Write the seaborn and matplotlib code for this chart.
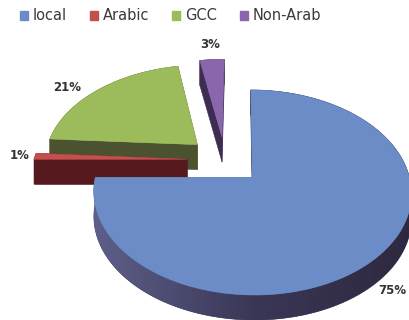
import numpy as np
import matplotlib
matplotlib.use("Agg")
import matplotlib.pyplot as plt
import seaborn as sns
from matplotlib.patches import Polygon, Patch
from matplotlib.colors import LinearSegmentedColormap

sns.set_theme(style="white")
plt.rcParams['font.family'] = ['DejaVu Sans']

# Shares of each group (percent)
categories = ["local", "Arabic", "GCC", "Non-Arab"]
shares = [75, 1, 21, 3]
value_labels = ["75%", "1%", "21%", "3%"]

top_colors = ["#6B8CC7", "#C4504E", "#9CBB5A", "#8A66AC"]
side_colors = ["#3E3D5E", "#561A1E", "#4A5230", "#3E2C52"]
wall_gradient = ["#5E5F8A", "#3A3756", "#2E283F"]

# 3-D pie geometry (pixel space of the canvas)
W, H = 410, 320
cx, cy = 225, 160
vanish_x = 240
rx, ry = 153, 95.2
persp = 0.1446
depth = 25
explode = 0.25
label_r = [1.1, 1.1, 1.2, 1.23]
label_turn = [0, 0, 6.4, 0]

fig = plt.figure(figsize=(W / 100, H / 100), dpi=100)
ax = fig.add_axes([0, 0, 1, 1])
ax.set_xlim(0, W)
ax.set_ylim(H, 0)
ax.axis("off")


def proj(u, v, z=0.0):
    u = np.atleast_1d(np.asarray(u, dtype=float))
    v = np.atleast_1d(np.asarray(v, dtype=float))
    f = 1.0 / (1.0 + persp * v)
    x = vanish_x + (cx + rx * u - vanish_x) * f
    return np.column_stack([x, cy - ry * v * f + z])


wall_cmap = LinearSegmentedColormap.from_list("wall", wall_gradient)

total = float(sum(shares))
bounds = np.concatenate([[0], np.cumsum(shares)]) / total
slices = []
for i, name in enumerate(categories):
    a0 = np.pi / 2 - 2 * np.pi * bounds[i]
    a1 = np.pi / 2 - 2 * np.pi * bounds[i + 1]
    mid = 0.5 * (a0 + a1)
    ou, ov = explode * np.cos(mid), explode * np.sin(mid)
    corner_y = proj(ou, ov)[0, 1]
    slices.append((corner_y, i, a0, a1, mid, ou, ov))

# paint from back to front
for corner_y, i, a0, a1, mid, ou, ov in sorted(slices):
    n = max(4, int(abs(a1 - a0) / np.radians(1.0)))
    t = np.linspace(a0, a1, n)
    au, av = ou + np.cos(t), ov + np.sin(t)
    arc_top = proj(au, av)
    arc_bot = proj(au, av, depth)
    c_top = proj(ou, ov)
    c_bot = proj(ou, ov, depth)

    # radial faces, back one first
    quads = [(av[0], np.vstack([c_top, arc_top[:1], arc_bot[:1], c_bot])),
             (av[-1], np.vstack([c_top, arc_top[-1:], arc_bot[-1:], c_bot]))]
    for _, pts in sorted(quads, key=lambda q: -q[0]):
        ax.add_patch(Polygon(pts, closed=True, facecolor=side_colors[i],
                             edgecolor=side_colors[i], lw=0.4))

    # outer wall, shaded left to right where it faces the front
    wall = Polygon(np.vstack([arc_top, arc_bot[::-1]]), closed=True,
                   facecolor=side_colors[i], edgecolor=side_colors[i], lw=0.4)
    ax.add_patch(wall)
    if (av < ov).any() and shares[i] > 50:
        x0, x1 = arc_top[:, 0].min(), arc_top[:, 0].max()
        y0, y1 = arc_top[:, 1].min(), arc_bot[:, 1].max()
        grad = np.linspace(0, 1, 256)[None, :]
        im = ax.imshow(grad, cmap=wall_cmap, extent=(x0, x1, y1, y0),
                       aspect="auto", interpolation="bilinear", zorder=wall.get_zorder())
        im.set_clip_path(wall)

    top = Polygon(np.vstack([c_top, arc_top]), closed=True,
                  facecolor=top_colors[i], edgecolor=top_colors[i], lw=0.4, zorder=2)
    ax.add_patch(top)

    r = label_r[i]
    la = mid + np.radians(label_turn[i])
    lu, lv = ou + r * np.cos(la), ov + r * np.sin(la)
    lx, ly = proj(lu, lv, depth if lv < 0 else 0)[0]
    ax.text(lx, ly, value_labels[i], ha="center", va="center", zorder=5,
            fontsize=8.5, fontweight="bold", color="#333333")

ax.set_xlim(0, W)
ax.set_ylim(H, 0)

handles = [Patch(facecolor=c, edgecolor=c) for c in top_colors]
fig.legend(handles, categories, loc="center left", ncol=4, frameon=False,
           bbox_to_anchor=(13 / W, 1 - 16 / H), fontsize=10.5, borderpad=0,
           handlelength=0.55, handleheight=0.55, handletextpad=0.3,
           columnspacing=1.6, labelcolor="#3a3a3a")

fig.savefig("out.png", dpi=100)
